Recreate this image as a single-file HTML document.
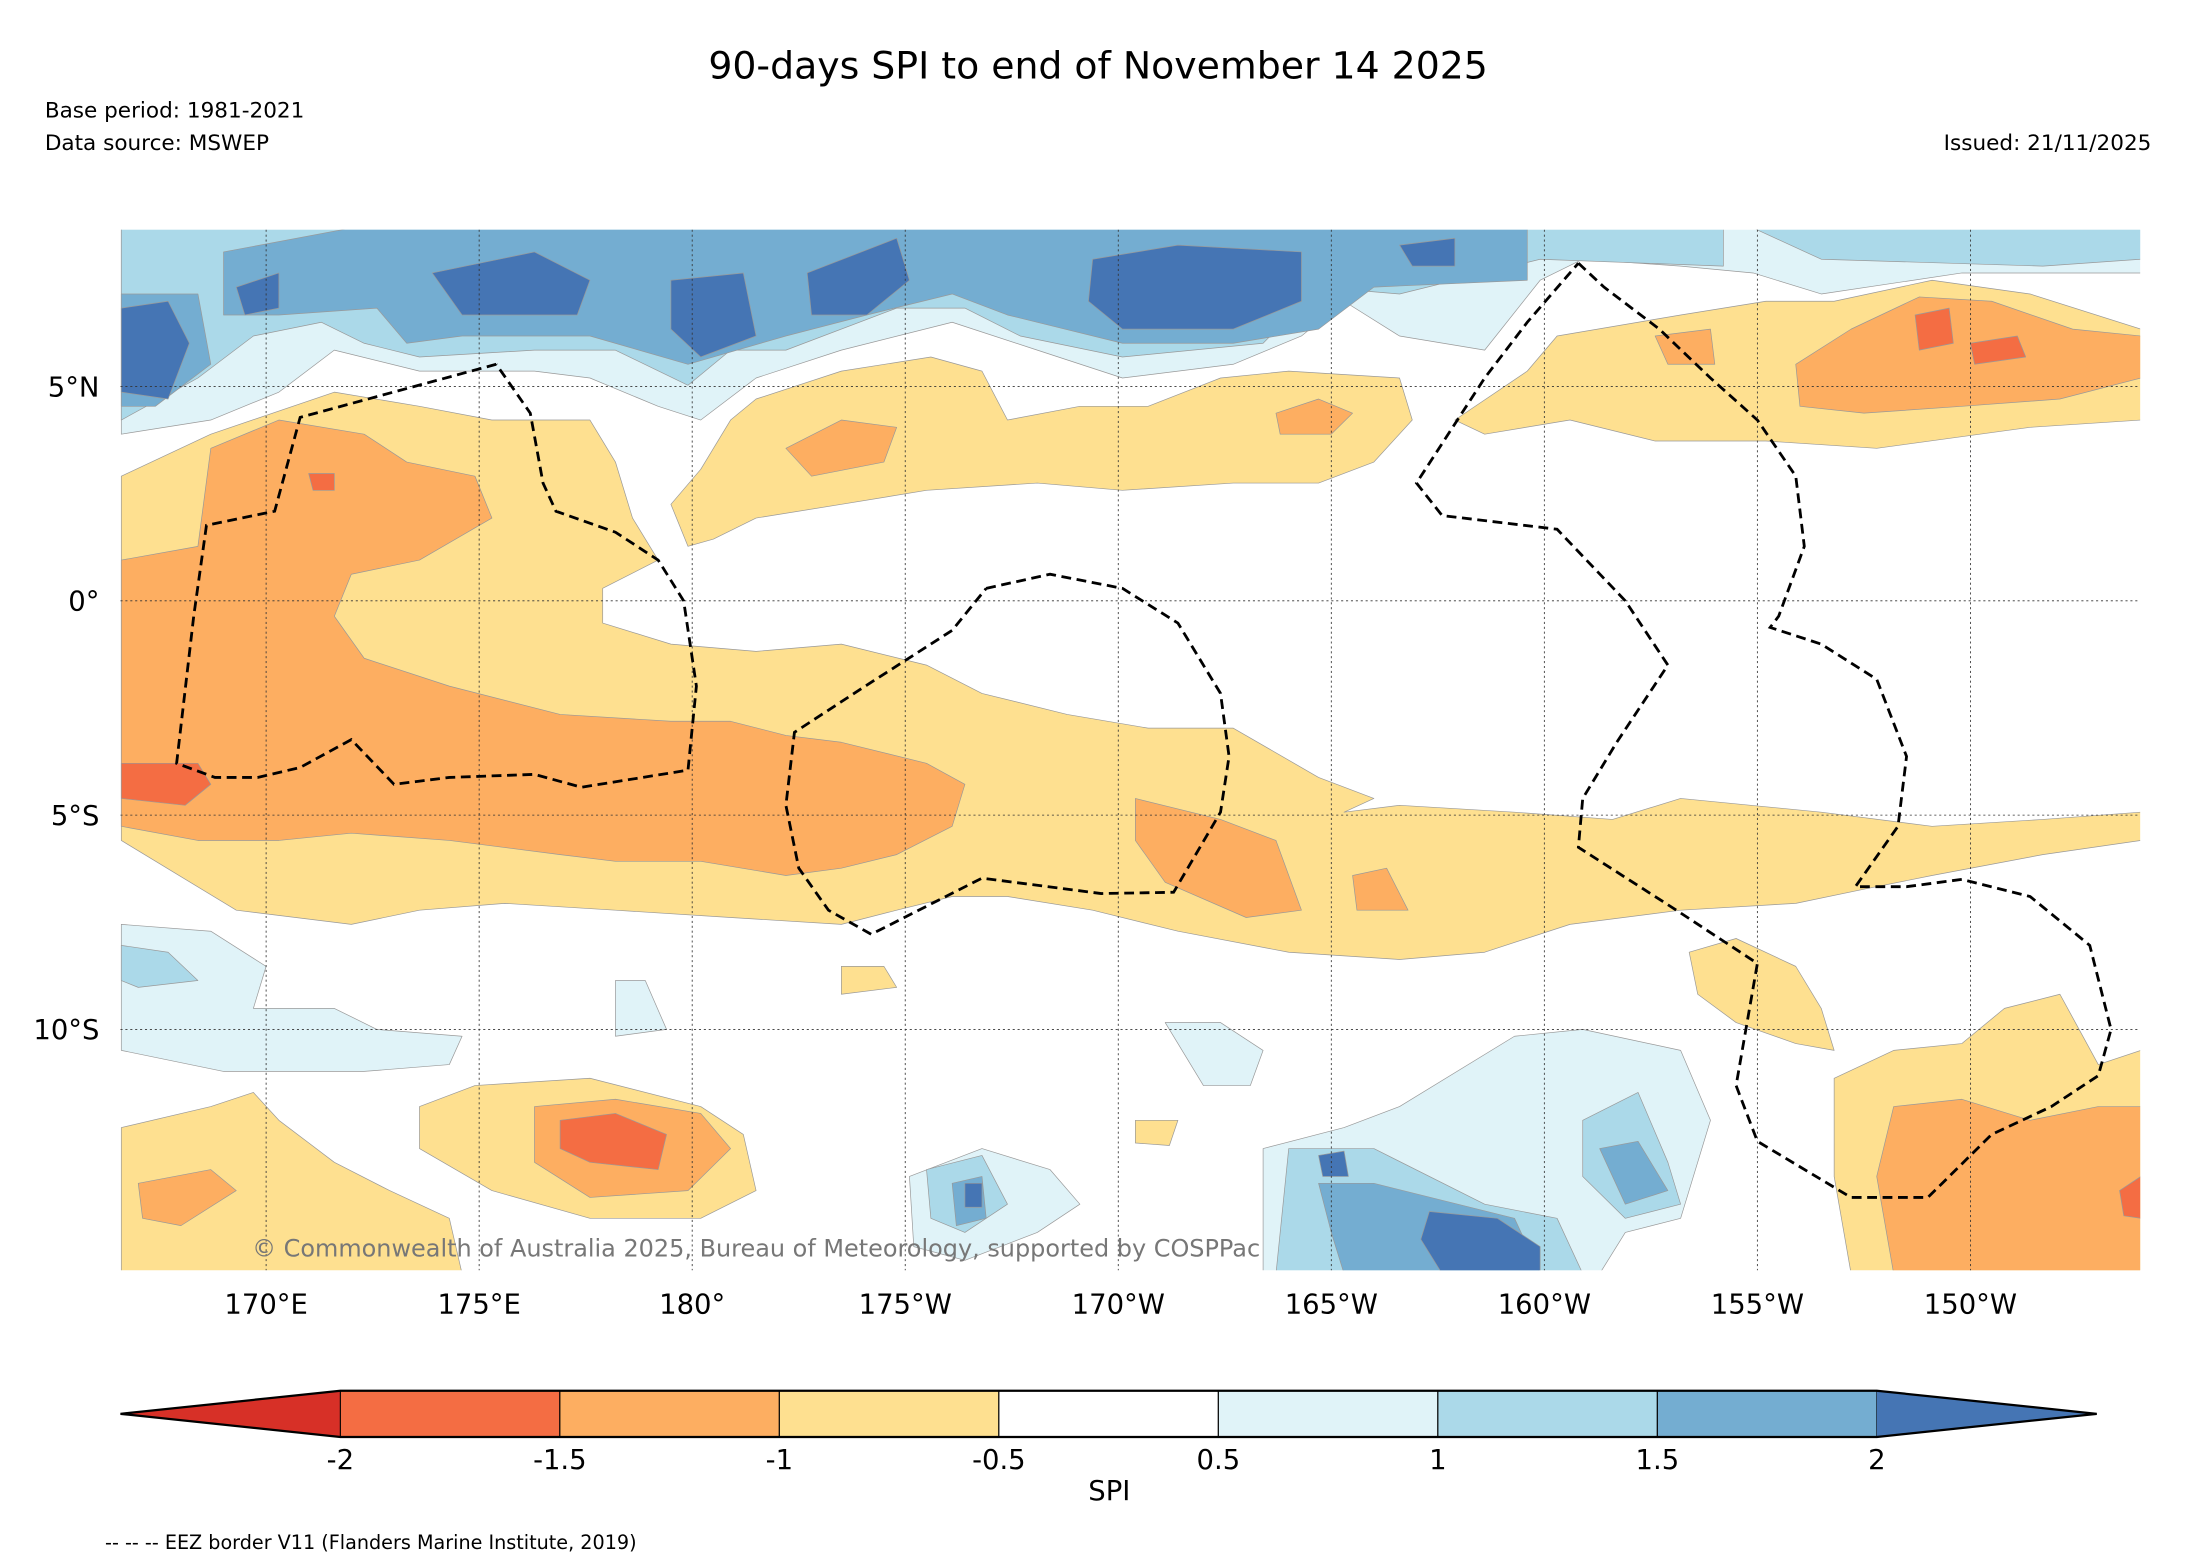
<!DOCTYPE html>
<html><head><meta charset="utf-8"><title>90-days SPI</title>
<style>html,body{margin:0;padding:0;background:#fff}svg{display:block}text{font-family:"DejaVu Sans","Liberation Sans",sans-serif}</style></head>
<body>
<svg id="chart" width="2185" height="1563" viewBox="0 0 1560 1116" preserveAspectRatio="none" xmlns="http://www.w3.org/2000/svg">
<rect width="1560" height="1116" fill="#fff"/>
<text x="784" y="56" font-size="27" text-anchor="middle">90-days SPI to end of November 14 2025</text>
<text x="32" y="84" font-size="15.4">Base period: 1981-2021</text>
<text x="32" y="107" font-size="15.4">Data source: MSWEP</text>
<text x="1536" y="107" font-size="15.4" text-anchor="end">Issued: 21/11/2025</text>
<defs><clipPath id="mapclip"><rect x="86" y="164" width="1442" height="743"/></clipPath></defs>
<g id="map" clip-path="url(#mapclip)"></g>
<g id="grid"></g>
<g id="eez" clip-path="url(#mapclip)"></g>
<text x="180" y="897" font-size="17.1" fill="#777">© Commonwealth of Australia 2025, Bureau of Meteorology, supported by COSPPac</text>
<g id="axes"></g>
<g id="cbar"></g>
<text x="792" y="1071" font-size="19.6" text-anchor="middle">SPI</text>
<text x="75" y="1106" font-size="13.7">-- -- -- EEZ border V11 (Flanders Marine Institute, 2019)</text>
</svg>
<script>
const lonTicks=[170,175,180,185,190,195,200,205,210];
const lonLabels=["170°E","175°E","180°","175°W","170°W","165°W","160°W","155°W","150°W"];
const latTicks=[5,0,-5,-10];
const latLabels=["5°N","0°","5°S","10°S"];
const cbLevels=[-2,-1.5,-1,-0.5,0.5,1,1.5,2];
const cbLabels=["-2","-1.5","-1","-0.5","0.5","1","1.5","2"];
const cbColors=["#d73027","#f46d43","#fdae61","#fee090","#ffffff","#e0f3f8","#abd9e9","#74add1","#4575b4"];
const regionLevels=[0.5,1,1,1.5,1.5,2,2,2,2,2,2,2,
 -0.5,-1,-1,-1.5,-1.5,-0.5,-1,-1,
 -0.5,-1,-1,-1,-1.5,-1.5,
 0.5,0.5,0.5,0.5,0.5,1,1,1,1,1.5,1.5,1.5,2,2,2,
 -0.5,-0.5,-0.5,-0.5,-0.5,-0.5,-1,-1,-1,-1.5,-1.5];
const regionShapes=[
[[166.6,8.7],[214,8.7],[214,7.65],[209.8,7.65],[206.5,7.16],[204.9,7.65],[203.2,7.81],[200.9,7.97],[199.9,7.48],[198.6,5.85],[196.6,6.18],[195.3,6.99],[194.3,6.18],[192.7,5.52],[190.1,5.2],[188.1,5.85],[186.1,6.5],[183.5,5.85],[181.5,5.2],[180.2,4.22],[179.2,4.54],[177.6,5.2],[176.3,5.36],[173.6,5.36],[171.6,5.85],[170.3,4.87],[168.7,4.22],[166.6,3.89]],
[[166.6,8.7],[204.2,8.7],[204.2,7.81],[199.9,7.97],[196.6,7.16],[194.7,7.32],[193.4,6.01],[190.1,5.69],[187.7,6.18],[186.4,6.83],[184.8,6.83],[182.2,5.85],[180.9,5.85],[179.9,5.03],[178.2,5.85],[176.3,5.85],[173.6,5.69],[172.3,6.01],[171.3,6.5],[169.7,6.18],[168.4,5.2],[166.6,4.22]],
[[204.9,8.7],[214,8.7],[214,7.97],[211.7,7.81],[206.5,7.97]],
[[166.6,7.16],[168.4,7.16],[168.7,5.52],[167.4,4.54],[166.6,4.54]],
[[169,8.14],[172,8.7],[186.8,8.7],[199.6,8.7],[199.6,7.48],[196,7.32],[194.7,6.34],[192.7,6.01],[190.1,6.01],[187.4,6.67],[186.1,7.16],[184.1,6.67],[182.2,6.18],[179.9,5.52],[177.6,6.18],[174.6,6.18],[173.3,6.01],[172.6,6.83],[170.3,6.67],[169,6.67]],
[[166.6,6.83],[167.7,6.99],[168.2,6.01],[167.7,4.71],[166.6,4.87]],
[[173.9,7.65],[176.3,8.14],[177.6,7.48],[177.3,6.67],[174.6,6.67]],
[[179.5,7.48],[181.2,7.65],[181.5,6.18],[180.2,5.69],[179.5,6.34]],
[[182.7,7.65],[184.8,8.46],[185.1,7.48],[184.1,6.67],[182.8,6.67]],
[[189.4,7.97],[191.4,8.3],[194.3,8.14],[194.3,6.99],[192.7,6.34],[190.1,6.34],[189.3,6.99]],
[[196.6,8.3],[197.9,8.46],[197.9,7.81],[196.9,7.81]],
[[169.3,7.32],[170.3,7.65],[170.3,6.83],[169.5,6.67]],
[[197.9,4.22],[199.6,5.36],[200.3,6.18],[203.2,6.67],[205.2,6.99],[206.8,6.99],[209.1,7.48],[211.4,7.16],[214,6.34],[214,4.22],[211.4,4.05],[207.8,3.56],[205.2,3.73],[202.6,3.73],[200.6,4.22],[198.6,3.89]],
[[205.9,5.52],[207.2,6.34],[208.8,7.09],[210.5,6.99],[212.4,6.34],[214,6.18],[214,5.2],[212.1,4.71],[209.8,4.54],[207.5,4.38],[206,4.54]],
[[202.6,6.18],[203.9,6.34],[204.0,5.52],[202.9,5.52]],
[[208.7,6.67],[209.5,6.83],[209.6,6.01],[208.8,5.85]],
[[210,6.01],[211.1,6.18],[211.3,5.69],[210.1,5.52]],
[[181.5,4.71],[183.5,5.36],[185.6,5.69],[186.8,5.36],[187.4,4.22],[189.1,4.54],[190.7,4.54],[192.4,5.2],[194,5.36],[196.6,5.2],[196.9,4.22],[196,3.24],[194.7,2.75],[192.7,2.75],[190.1,2.58],[188.1,2.75],[185.5,2.58],[183.5,2.25],[181.5,1.93],[180.5,1.44],[179.9,1.27],[179.5,2.25],[180.2,3.07],[180.9,4.22]],
[[182.2,3.56],[183.5,4.22],[184.8,4.05],[184.5,3.24],[182.8,2.91]],
[[193.7,4.38],[194.7,4.71],[195.5,4.38],[195,3.89],[193.8,3.89]],
[[166.6,2.91],[168.7,3.89],[171.6,4.87],[173.6,4.54],[175.3,4.22],[177.6,4.22],[178.2,3.24],[178.6,1.93],[179.2,0.95],[177.9,0.29],[177.9,-0.52],[179.5,-1.01],[181.5,-1.18],[183.5,-1.01],[185.5,-1.5],[186.8,-2.16],[188.8,-2.65],[190.7,-2.97],[192.7,-2.97],[194.7,-4.12],[196,-4.61],[195.3,-4.93],[196.6,-4.77],[199.3,-4.93],[201.6,-5.1],[203.2,-4.61],[206.5,-4.93],[209.1,-5.26],[211.7,-5.1],[214,-4.93],[214,-5.59],[211.7,-5.92],[209.1,-6.41],[207.5,-6.73],[205.9,-7.06],[203.2,-7.22],[200.6,-7.55],[198.6,-8.2],[196.6,-8.37],[194,-8.2],[191.4,-7.71],[189.4,-7.22],[187.4,-6.9],[186.1,-6.9],[184.8,-7.22],[183.5,-7.55],[180.9,-7.39],[178.2,-7.22],[175.6,-7.06],[173.6,-7.22],[172,-7.55],[169.3,-7.22],[166.6,-5.59]],
[[166.6,0.95],[168.4,1.27],[168.7,3.56],[170.3,4.22],[172.3,3.89],[173.3,3.24],[174.9,2.91],[175.3,1.93],[173.6,0.95],[172,0.62],[171.6,-0.36],[172.3,-1.34],[174.3,-1.99],[176.9,-2.65],[179.5,-2.81],[180.9,-2.81],[182.2,-3.14],[183.5,-3.3],[185.5,-3.79],[186.4,-4.28],[186.1,-5.26],[184.8,-5.92],[183.5,-6.24],[182.2,-6.41],[180.2,-6.08],[178.2,-6.08],[176.9,-5.92],[174.3,-5.59],[172,-5.42],[170.3,-5.59],[168.4,-5.59],[166.6,-5.26]],
[[190.4,-4.61],[192.4,-5.1],[193.7,-5.59],[194.3,-7.22],[193,-7.39],[191.1,-6.57],[190.4,-5.59]],
[[195.5,-6.41],[196.3,-6.24],[196.8,-7.22],[195.6,-7.22]],
[[166.6,-3.79],[168.4,-3.79],[168.7,-4.28],[168.1,-4.77],[166.6,-4.61]],
[[171,2.97],[171.6,2.97],[171.6,2.58],[171.1,2.58]],
[[166.6,-7.55],[168.7,-7.71],[170,-8.53],[169.7,-9.51],[171.6,-9.51],[172.6,-10],[174.6,-10.16],[174.3,-10.82],[172.3,-10.98],[169,-10.98],[166.6,-10.49]],
[[178.2,-8.86],[178.9,-8.86],[179.4,-10],[178.2,-10.16]],
[[191.1,-9.84],[192.4,-9.84],[193.4,-10.49],[193.1,-11.31],[192,-11.31]],
[[185.1,-13.43],[186.8,-12.78],[188.4,-13.27],[189.1,-14.08],[188.1,-14.74],[186.4,-15.39],[185.2,-15.07]],
[[193.4,-12.78],[195.3,-12.29],[196.6,-11.8],[199.3,-10.16],[200.9,-10],[203.2,-10.49],[203.9,-12.12],[203.2,-14.41],[201.9,-14.74],[201.3,-15.7],[193.4,-15.7]],
[[166.6,-8.04],[167.7,-8.2],[168.4,-8.86],[167,-9.02],[166.6,-8.86]],
[[194,-12.78],[196,-12.78],[198.6,-14.08],[200.3,-14.41],[200.9,-15.7],[193.7,-15.7]],
[[200.9,-12.12],[202.2,-11.47],[202.9,-13.1],[203.2,-14.08],[201.9,-14.41],[200.9,-13.43]],
[[185.5,-13.27],[186.8,-12.94],[187.4,-14.08],[186.4,-14.74],[185.6,-14.41]],
[[194.7,-13.59],[196,-13.59],[199.3,-14.41],[199.9,-15.7],[195.3,-15.7],[195,-14.74]],
[[201.3,-12.78],[202.2,-12.61],[202.9,-13.76],[201.9,-14.08]],
[[186.1,-13.59],[186.8,-13.43],[186.9,-14.41],[186.2,-14.58]],
[[197.3,-14.25],[198.9,-14.41],[199.9,-15.07],[199.9,-15.7],[197.6,-15.7],[197.1,-14.9]],
[[186.4,-13.59],[186.8,-13.59],[186.8,-14.15],[186.4,-14.15]],
[[194.7,-12.94],[195.3,-12.84],[195.4,-13.43],[194.8,-13.43]],
[[166.6,-12.29],[168.7,-11.8],[169.7,-11.47],[170.3,-12.12],[171.6,-13.1],[172.9,-13.76],[174.3,-14.41],[174.6,-15.7],[166.6,-15.7]],
[[173.6,-11.8],[174.9,-11.31],[177.6,-11.14],[180.2,-11.8],[181.2,-12.45],[181.5,-13.76],[180.2,-14.41],[177.6,-14.41],[175.3,-13.76],[173.6,-12.78]],
[[203.4,-8.2],[204.5,-7.88],[205.9,-8.53],[206.5,-9.51],[206.8,-10.49],[205.9,-10.33],[204.5,-9.84],[203.6,-9.18]],
[[206.8,-11.14],[208.2,-10.49],[209.8,-10.33],[210.8,-9.51],[212.1,-9.18],[213,-10.82],[214,-10.49],[214,-15.7],[207.2,-15.7],[206.8,-13.43]],
[[183.5,-8.53],[184.5,-8.53],[184.8,-9.02],[183.5,-9.18]],
[[190.4,-12.12],[191.4,-12.12],[191.2,-12.71],[190.4,-12.65]],
[[176.3,-11.8],[178.2,-11.63],[180.2,-11.96],[180.9,-12.78],[179.9,-13.76],[177.6,-13.92],[176.3,-13.1]],
[[167,-13.59],[168.7,-13.27],[169.3,-13.76],[168,-14.58],[167.1,-14.41]],
[[208.2,-11.8],[209.8,-11.63],[211.4,-12.12],[213,-11.8],[214,-11.8],[214,-15.7],[208.2,-15.7],[207.8,-13.43]],
[[176.9,-12.12],[178.2,-11.96],[179.4,-12.45],[179.2,-13.27],[177.6,-13.1],[176.9,-12.78]],
[[213.5,-13.76],[214,-13.43],[214,-14.41],[213.6,-14.35]]
];
const eezLines=[
[[175.4,5.52],[170.8,4.28],[170.2,2.09],[168.6,1.76],[168.3,-0.36],[167.9,-3.79],[168.8,-4.12],[169.8,-4.12],[170.8,-3.89],[172,-3.24],[173,-4.28],[174.3,-4.12],[176.3,-4.05],[177.4,-4.35],[179.9,-3.95],[180.1,-1.99],[179.8,0],[179.2,0.95],[178.2,1.6],[176.8,2.09],[176.5,2.75],[176.2,4.38],[175.4,5.52]],
[[186.9,0.29],[188.4,0.62],[190.1,0.29],[191.4,-0.52],[192.4,-2.16],[192.6,-3.63],[192.4,-4.93],[191.3,-6.8],[189.6,-6.83],[186.8,-6.47],[184.2,-7.78],[183.2,-7.22],[182.5,-6.24],[182.2,-4.77],[182.4,-3.07],[184,-2.03],[186.1,-0.69],[186.9,0.29]],
[[200.8,7.88],[201.4,7.32],[202.7,6.34],[203.9,5.2],[205,4.22],[205.9,2.91],[206.1,1.27],[205.5,-0.36],[205.3,-0.62],[206.5,-1.01],[207.8,-1.83],[208.5,-3.63],[208.3,-5.26],[207.3,-6.67],[208.5,-6.67],[209.8,-6.5],[211.4,-6.9],[212.8,-8.04],[213.3,-10],[213,-11.08],[211.9,-11.8],[210.5,-12.45],[209,-13.92],[207.2,-13.92],[205,-12.61],[204.5,-11.31],[205,-8.46],[203.1,-7.22],[200.8,-5.75],[200.9,-4.61],[201.7,-3.3],[202.9,-1.5],[201.9,0],[200.3,1.67],[197.6,1.99],[197,2.75],[198.6,5.2],[199.6,6.5],[200.8,7.88]]
];
const NS="http://www.w3.org/2000/svg";
const X=lon=>190+(lon-170)*30.42;
const Y=lat=>429-lat*30.6;
const CB=v=>243+cbLevels.indexOf(v)*(1097/7);
function colorFor(l){const i=cbLevels.indexOf(l);return l<0?cbColors[i]:cbColors[i+1];}
function mk(tag,attrs,parent){const e=document.createElementNS(NS,tag);for(const k in attrs)e.setAttribute(k,attrs[k]);parent.appendChild(e);return e;}
const map=document.getElementById('map');
const order=regionShapes.map((s,i)=>i).sort((a,b)=>Math.abs(regionLevels[a])-Math.abs(regionLevels[b]));
order.forEach(i=>{
  const d=regionShapes[i].map((p,j)=>(j?'L':'M')+X(p[0]).toFixed(1)+','+Y(p[1]).toFixed(1)).join('')+'Z';
  const p=mk('path',{d:d,fill:colorFor(regionLevels[i]),stroke:'#999','stroke-width':0.5,'stroke-linejoin':'round'},map);
  
  
});
const grid=document.getElementById('grid'),axes=document.getElementById('axes');
lonTicks.forEach((lon,i)=>{
  const l=mk('line',{x1:X(lon),x2:X(lon),y1:164,y2:907,stroke:'#333','stroke-width':0.6,'stroke-dasharray':'1.5,2'},grid);
  
  
  const t=mk('text',{x:X(lon),y:938,'font-size':19.6,'text-anchor':'middle'},axes);t.textContent=lonLabels[i];
  
  
});
latTicks.forEach((lat,i)=>{
  const l=mk('line',{x1:86,x2:1528,y1:Y(lat),y2:Y(lat),stroke:'#333','stroke-width':0.6,'stroke-dasharray':'1.5,2'},grid);
  
  
  const t=mk('text',{x:71,y:Y(lat)+7,'font-size':19.6,'text-anchor':'end'},axes);t.textContent=latLabels[i];
  
  
});
const eez=document.getElementById('eez');
eezLines.forEach(line=>{
  const p=mk('polyline',{points:line.map(q=>X(q[0]).toFixed(1)+','+Y(q[1]).toFixed(1)).join(' '),fill:'none',stroke:'#000','stroke-width':2,'stroke-dasharray':'7,4'},eez);
  
  
});
const cb=document.getElementById('cbar');const y0=993,y1=1026,ym=(y0+y1)/2;
const l0=mk('polygon',{points:`${CB(-2)},${y0} 86,${ym} ${CB(-2)},${y1}`,fill:cbColors[0]},cb);


for(let i=0;i<cbLevels.length-1;i++){
  const r=mk('rect',{x:CB(cbLevels[i]),y:y0,width:CB(cbLevels[i+1])-CB(cbLevels[i]),height:y1-y0,fill:cbColors[i+1],stroke:'#000','stroke-width':0.8},cb);
  
  
}
const r0=mk('polygon',{points:`${CB(2)},${y0} 1497,${ym} ${CB(2)},${y1}`,fill:cbColors[8]},cb);


mk('polygon',{points:`86,${ym} ${CB(-2)},${y0} ${CB(2)},${y0} 1497,${ym} ${CB(2)},${y1} ${CB(-2)},${y1}`,fill:'none',stroke:'#000','stroke-width':1.6},cb);
cbLevels.forEach((v,i)=>{
  const t=mk('text',{x:CB(v),y:1049,'font-size':19.6,'text-anchor':'middle'},cb);t.textContent=cbLabels[i];
  
  
});
</script>
</body></html>
